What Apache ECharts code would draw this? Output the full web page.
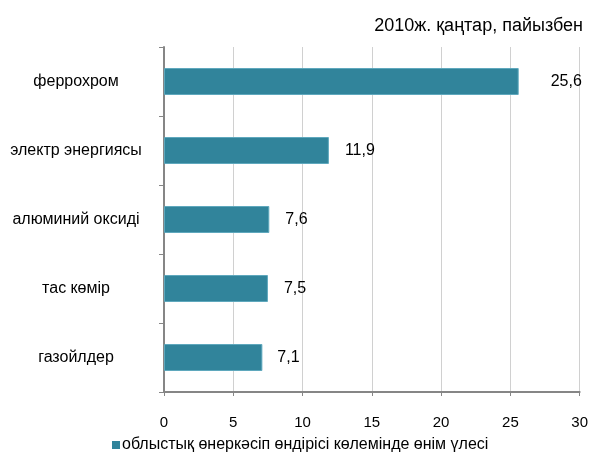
<!DOCTYPE html>
<html>
<head>
<meta charset="utf-8">
<script src="https://cdn.jsdelivr.net/npm/echarts@6/dist/echarts.min.js"></script>
<style>
html,body{margin:0;padding:0;background:#fff;}
#chart{width:591px;height:452px;}
</style>
</head>
<body>
<div id="chart"></div>
<script>
const categories = ['феррохром', 'электр энергиясы', 'алюминий оксиді', 'тас көмір', 'газойлдер'];
const values = [25.6, 11.9, 7.6, 7.5, 7.1];
const xTicks = [0, 5, 10, 15, 20, 25, 30];
const seriesName = 'облыстық өнеркәсіп өндірісі көлемінде өнім үлесі';
const titleText = '2010ж. қаңтар, пайызбен';
const labelGaps = [32, 16, 16, 16, 15];

const font = 'Arial, "Liberation Sans", sans-serif';
const chart = echarts.init(document.getElementById('chart'), null, {renderer: 'canvas'});
chart.setOption({
  animation: false,
  backgroundColor: '#ffffff',
  title: {
    text: titleText,
    right: 3,
    top: 12,
    textStyle: {fontFamily: font, fontSize: 18, fontWeight: 'normal', color: '#000'}
  },
  legend: {
    left: 107,
    top: 432,
    itemWidth: 8,
    itemHeight: 8,
    itemGap: 10,
    icon: 'rect',
    itemStyle: {borderWidth: 0},
    textStyle: {fontFamily: font, fontSize: 16, color: '#000', padding: [0, 0, 0, -3]},
    data: [seriesName]
  },
  grid: {left: 164, right: 8, top: 47, bottom: 60, containLabel: false},
  xAxis: {
    type: 'value',
    min: xTicks[0],
    max: xTicks[xTicks.length - 1],
    interval: xTicks[1] - xTicks[0],
    axisLine: {show: true, lineStyle: {color: '#868686', width: 2}},
    axisTick: {show: true, length: 4, lineStyle: {color: '#868686'}},
    axisLabel: {margin: 23, fontFamily: font, fontSize: 15, color: '#000'},
    splitLine: {show: true, lineStyle: {color: '#d0d0d0', width: 1}}
  },
  yAxis: {
    type: 'category',
    inverse: true,
    data: categories,
    axisLine: {show: true, lineStyle: {color: '#868686', width: 2}},
    axisTick: {show: true, length: 5, inside: false, lineStyle: {color: '#868686'}},
    axisLabel: {margin: 88, align: 'center', fontFamily: font, fontSize: 16, color: '#000'},
    splitLine: {show: false}
  },
  series: [{
    name: seriesName,
    type: 'bar',
    barWidth: 27,
    itemStyle: {color: '#31849b', borderColor: '#5fa8bd', borderWidth: 1},
    label: {
      show: true,
      position: 'right',
      fontFamily: font,
      fontSize: 16,
      color: '#000',
      formatter: p => String(p.value).replace('.', ',')
    },
    data: values.map((v, i) => ({value: v, label: {distance: labelGaps[i]}}))
  }]
});
</script>
</body>
</html>
